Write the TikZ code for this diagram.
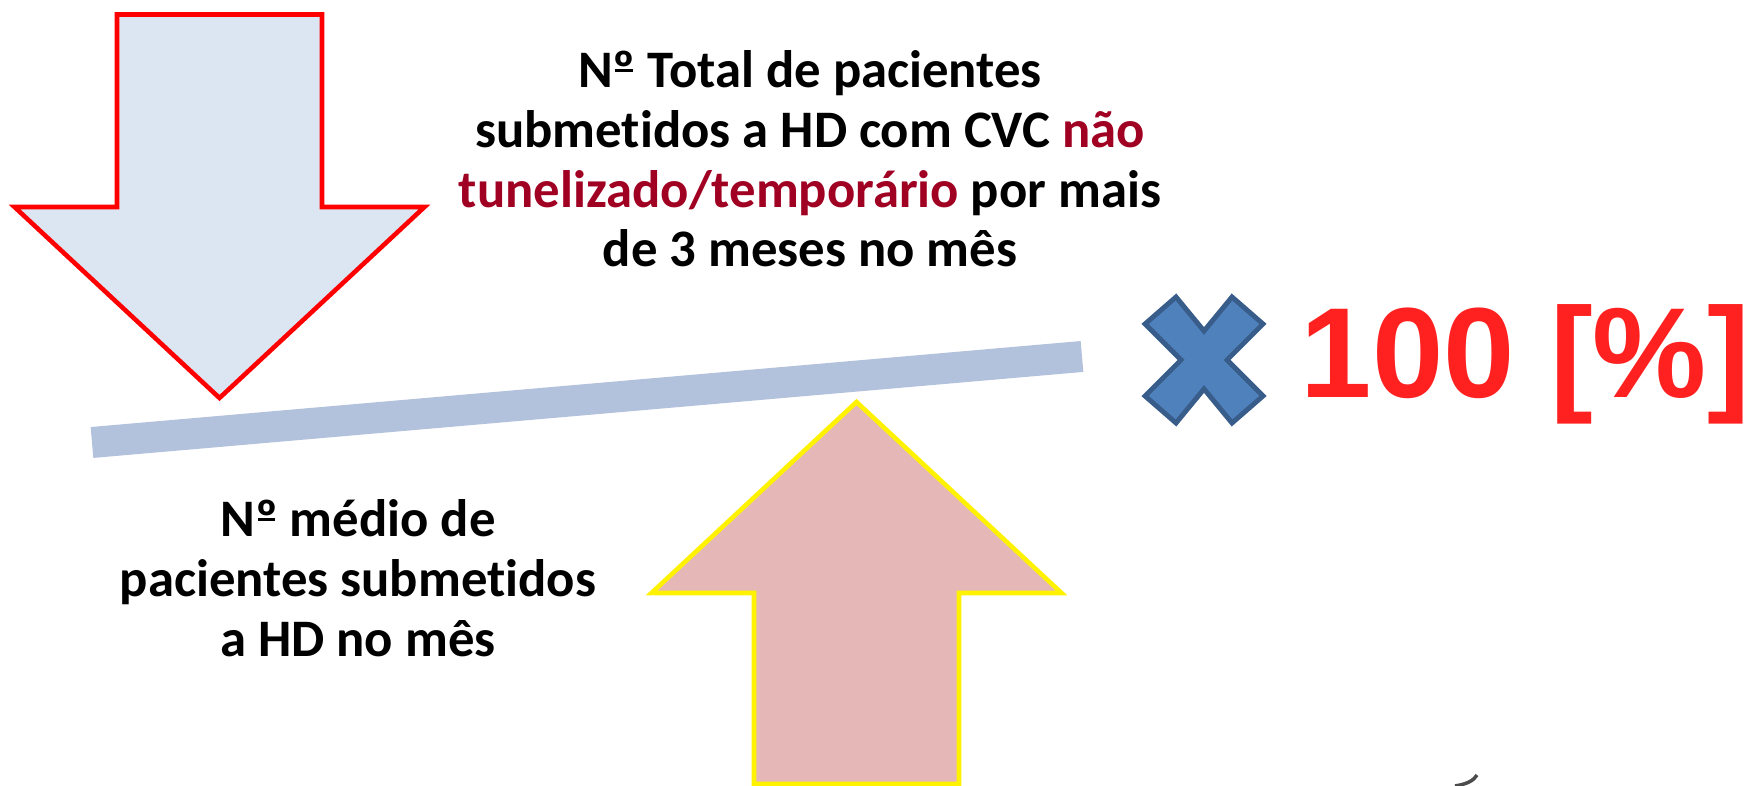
\documentclass[tikz,border=0pt]{standalone}
\usepackage{fontspec}
\setmainfont[Ligatures=NoCommon]{Carlito}
\newfontfamily\bignumfont{Liberation Sans}
\usepackage{xcolor}
\definecolor{downfill}{RGB}{220,230,242}
\definecolor{upfill}{RGB}{229,184,183}
\definecolor{barblue}{RGB}{179,194,220}
\definecolor{crossfill}{RGB}{79,129,189}
\definecolor{crossline}{RGB}{56,93,138}
\definecolor{darkred}{RGB}{160,0,33}
\definecolor{brightred}{RGB}{255,32,32}
\usepackage{tikz}
\usetikzlibrary{calc,positioning}
\newcommand{\numero}{N\ooalign{º\cr\hidewidth\rule[0.3em]{0.34em}{0.06em}\hidewidth}}

\begin{document}
\begin{tikzpicture}[
    bigarrow/.style={line width=1.3pt,line join=miter},
    label/.style={align=center,inner sep=0pt,font=\bfseries\fontsize{15}{17}\selectfont}]
            \def\sw{1.025} \def\hw{2.05} \def\hh{1.91}
            \useasboundingbox (0,0) rectangle (17.5,7.86);
            \coordinate (dtip) at (2.195,3.88);
            \coordinate (utip) at (8.565,3.84);
            \coordinate (barL) at (0.92,3.435);
            \coordinate (barR) at (10.82,4.295);
            \coordinate (xc) at (12.04,4.26);
            \draw[bigarrow,red,fill=downfill] (dtip) -- ++(-\hw,\hh) -- ++({\hw-\sw},0) -- ++(0,1.925)
                -- ++({2*\sw},0) -- ++(0,-1.925) -- ++({\hw-\sw},0) -- cycle;
            \draw[bigarrow,yellow,fill=upfill] (utip) -- ++(-\hw,-\hh) -- ++({\hw-\sw},0) -- ++(0,-1.91)
                -- ++({2*\sw},0) -- ++(0,1.91) -- ++({\hw-\sw},0) -- cycle;
            \draw[line width=0.31cm,barblue] (barL) -- (barR);
            \draw[line width=1.4pt,crossline,fill=crossfill,line join=miter,shift={(xc)}]
                (-0.28,0.63) -- (0,0.29) -- (0.28,0.63) -- (0.59,0.36) -- (0.23,0) -- (0.59,-0.36)
                -- (0.28,-0.63) -- (0,-0.29) -- (-0.28,-0.63) -- (-0.59,-0.36) -- (-0.23,0) -- (-0.59,0.36) -- cycle;
            \node[label] (num) at (8.10,6.27) {\numero{} Total de pacientes\\submetidos a HD com CVC \textcolor{darkred}{não}\\
                \textcolor{darkred}{tunelizado/temporário} por mais\\de 3 meses no mês};
            \node[label] (den) at (3.58,2.08) {\numero{} médio de\\pacientes submetidos\\a HD no mês};
            \node[anchor=base west,inner sep=0pt,text=brightred,font=\bignumfont\bfseries\fontsize{36.5}{40}\selectfont]
                (pct) at (13.0,3.88) {100 [\%]};
            \draw[gray!60!black,line width=1pt] (14.55,0) .. controls (14.68,0.02) and (14.74,0.06) .. (14.77,0.11);
        \end{tikzpicture}
\end{document}
